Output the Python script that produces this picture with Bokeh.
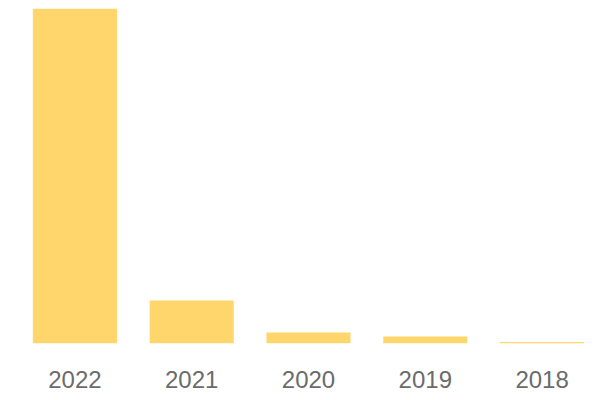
from bokeh.plotting import figure
from bokeh.models import FactorRange, Range1d, ColumnDataSource
from bokeh.embed import file_html
from bokeh.resources import INLINE

years = ["2022", "2021", "2020", "2019", "2018"]
values = [1000, 128, 33, 21, 4.5]

source = ColumnDataSource(data=dict(years=years, values=values))

p = figure(
    x_range=FactorRange(*years, range_padding=0),
    y_range=Range1d(0, max(values)),
    width=600, height=400,
    output_backend="svg", toolbar_location=None,
    min_border_left=16, min_border_right=0, min_border_top=8, min_border_bottom=57,
)
p.vbar(x="years", top="values", width=0.72, source=source,
       fill_color="#FFD66B", line_color=None)

p.yaxis.visible = False
p.xgrid.visible = False
p.ygrid.visible = False
p.outline_line_color = None
p.xaxis.axis_line_color = None
p.xaxis.major_tick_line_color = None
p.xaxis.minor_tick_line_color = None
p.xaxis.major_tick_out = 0
p.xaxis.major_tick_in = 0
p.xaxis.major_label_standoff = 27
p.xaxis.major_label_text_font = "Liberation Sans"
p.xaxis.major_label_text_font_size = "24px"
p.xaxis.major_label_text_color = "#6b6b6b"

open("out.html", "w").write(file_html(p, INLINE))
